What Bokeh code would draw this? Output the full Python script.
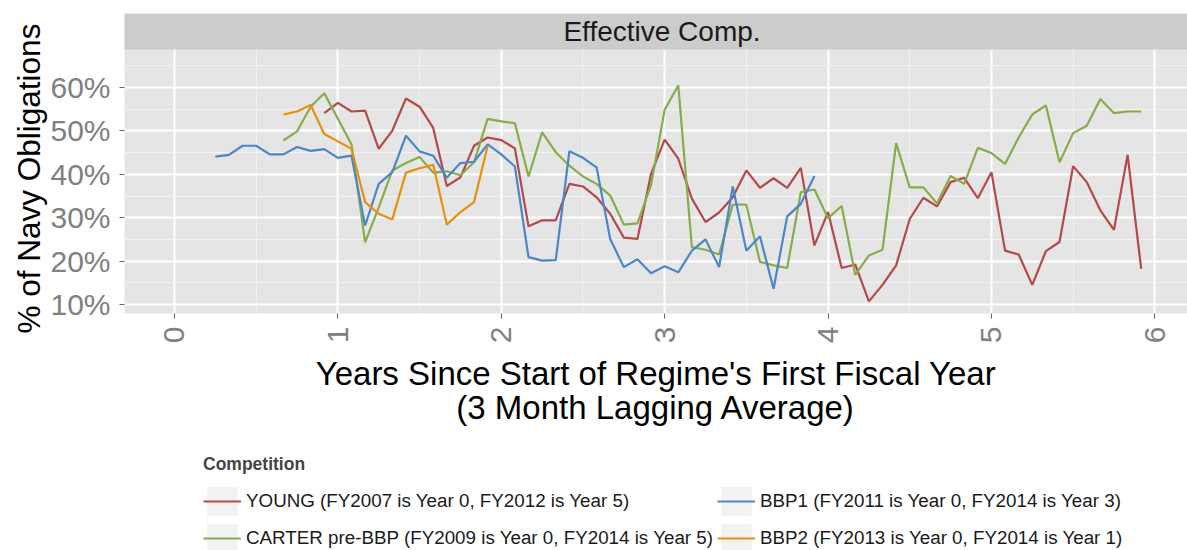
import math
from bokeh.plotting import figure
from bokeh.models import (ColumnDataSource, FixedTicker, PrintfTickFormatter, Legend,
                          LegendItem, Label, Range1d, Title)
from bokeh.layouts import column
from bokeh.embed import file_html
from bokeh.resources import INLINE

# ---------------- data (monthly points, 3-month lagging average, % of Navy obligations) -------------
series_names = [
    "YOUNG (FY2007 is Year 0, FY2012 is Year 5)",
    "CARTER pre-BBP (FY2009 is Year 0, FY2014 is Year 5)",
    "BBP1 (FY2011 is Year 0, FY2014 is Year 3)",
    "BBP2 (FY2013 is Year 0, FY2014 is Year 1)",
]
series_colors = ["#B5484A", "#88AC4A", "#4A86C8", "#E8900C"]

# first month index (months since start of regime's first fiscal year) of each series
young_start = 11
young_vals = [54.1, 56.5, 54.5, 54.7, 45.9, 50.1, 57.5, 55.6, 50.7, 37.3, 39.3, 46.6, 48.5,
              47.9, 46.0, 28.0, 29.4, 29.4, 37.8, 37.2, 34.7, 30.9, 25.4, 25.1, 40.1, 48.0,
              43.6, 34.4, 29.0, 31.2, 34.7, 40.9, 36.9, 39.1, 36.9, 41.5, 23.6, 31.3, 18.4,
              19.2, 10.7, 14.5, 19.0, 29.7, 34.6, 32.6, 38.2, 39.2, 34.5, 40.5, 22.4, 21.5,
              14.5, 22.3, 24.4, 41.9, 38.2, 31.7, 27.2, 44.5, 18.2]

carter_start = 8
carter_vals = [47.8, 49.9, 55.6, 58.7, 52.8, 46.9, 24.3, 32.4, 40.9, 42.6, 44.0, 40.4, 40.7,
               39.8, 42.8, 52.8, 52.2, 51.8, 39.5, 49.7, 45.1, 42.0, 39.5, 37.8, 35.1, 28.4,
               28.7, 37.5, 54.9, 60.5, 23.2, 22.6, 21.5, 33.0, 33.0, 19.8, 19.0, 18.4, 35.9,
               36.5, 29.9, 32.7, 16.8, 21.3, 22.6, 47.2, 37.0, 37.0, 33.3, 39.6, 37.8, 46.1,
               44.9, 42.4, 48.5, 53.8, 55.9, 42.8, 49.5, 51.2, 57.4, 54.1, 54.5, 54.5]

bbp1_start = 3
bbp1_vals = [44.1, 44.5, 46.6, 46.6, 44.6, 44.6, 46.3, 45.4, 45.8, 43.8, 44.3, 28.2, 37.8,
             40.5, 48.9, 45.3, 44.3, 39.2, 42.6, 42.9, 46.9, 44.6, 41.8, 20.9, 20.1, 20.2,
             45.3, 43.8, 41.6, 25.1, 18.6, 20.4, 17.2, 18.8, 17.4, 22.4, 25.0, 18.6, 37.2,
             22.4, 25.7, 13.6, 30.3, 33.2, 39.6]

bbp2_start = 8
bbp2_vals = [53.8, 54.5, 56.0, 49.3, 47.6, 45.9, 33.6, 30.9, 29.6, 40.4, 41.4, 42.2, 28.4,
             31.3, 33.6, 46.6]

starts = [young_start, carter_start, bbp1_start, bbp2_start]
values = [young_vals, carter_vals, bbp1_vals, bbp2_vals]

x_ticks = [0, 1, 2, 3, 4, 5, 6]
x_minor = [0.5, 1.5, 2.5, 3.5, 4.5, 5.5]
y_ticks = [10, 20, 30, 40, 50, 60]
y_minor = [15, 25, 35, 45, 55, 65]

FONT = "Liberation Sans"
W = 1187
H_MAIN, H_LEG = 450, 100
LEFT = 124

# axis ranges; the facet strip sits inside the frame above the data panel
X0, X1 = -0.306, 6.2
Y0, PANEL_TOP, STRIP_TOP = 7.9, 68.8, 77.1

p = figure(width=W, height=H_MAIN, x_range=Range1d(X0, X1), y_range=Range1d(Y0, STRIP_TOP),
           output_backend="svg", toolbar_location=None,
           min_border_left=LEFT, min_border_right=0, min_border_top=13,
           min_border_bottom=H_MAIN - 313,
           background_fill_color="#E5E5E5", border_fill_color="white", outline_line_color=None)

p.xaxis.ticker = FixedTicker(ticks=x_ticks, minor_ticks=x_minor)
p.yaxis.ticker = FixedTicker(ticks=y_ticks, minor_ticks=y_minor)
p.yaxis.formatter = PrintfTickFormatter(format="%d%%")

for g in (p.xgrid, p.ygrid):
    g.grid_line_color = "white"
    g.grid_line_width = 2
    g.minor_grid_line_color = "#F2F2F2"
    g.minor_grid_line_width = 1

for ax in (p.xaxis, p.yaxis):
    ax.axis_line_color = None
    ax.major_tick_line_color = "#666666"
    ax.major_tick_line_width = 1
    ax.major_tick_in = 0
    ax.major_tick_out = 5
    ax.minor_tick_line_color = None
    ax.major_label_text_color = "#808080"
    ax.major_label_text_font = FONT
    ax.major_label_text_font_size = "30px"
    ax.axis_label_text_font = FONT
    ax.axis_label_text_font_style = "normal"
    ax.axis_label_text_color = "black"

p.yaxis.major_label_standoff = 9
p.xaxis.major_label_orientation = math.pi / 2
p.xaxis.major_label_standoff = 8
p.xaxis.axis_label = "Years Since Start of Regime's First Fiscal Year\n(3 Month Lagging Average)"
p.xaxis.axis_label_text_font_size = "33px"
p.xaxis.axis_label_standoff = 9
p.xaxis.axis_label_text_line_height = 0.92

# y-axis title as a left-side title so it can extend beyond the data panel like the original
ytitle = Title(text="% of Navy Obligations", align="left", offset=-20,
               text_font=FONT, text_font_size="31.5px", text_font_style="normal",
               text_color="black")
if "standoff" in ytitle.properties():
    ytitle.standoff = 2
p.add_layout(ytitle, "left")

# facet strip
p.quad(left=[X0], right=[X1], bottom=[PANEL_TOP], top=[STRIP_TOP],
       fill_color="#CCCCCC", line_color=None)
p.add_layout(Label(x=(X0 + X1) / 2, y=(PANEL_TOP + STRIP_TOP) / 2, x_offset=6,
                   text="Effective Comp.", text_align="center", text_baseline="middle",
                   text_font=FONT, text_font_size="28px", text_color="#1A1A1A"))

for col, st, vals in zip(series_colors, starts, values):
    src = ColumnDataSource(dict(x=[(st + i) / 12 for i in range(len(vals))], y=vals))
    p.line("x", "y", source=src, line_color=col, line_width=2.2)

# ---------------- legend (separate strip below the plot) ----------------
lf = figure(width=W, height=H_LEG, x_range=Range1d(0, 1), y_range=Range1d(0, 1),
            output_backend="svg", toolbar_location=None,
            x_axis_location=None, y_axis_location=None,
            min_border_left=LEFT, min_border_right=0, min_border_top=0, min_border_bottom=0,
            background_fill_color="white", border_fill_color="white", outline_line_color=None)
lf.grid.visible = False
nan = float("nan")
key_r = lf.quad(left=[nan], right=[nan], top=[nan], bottom=[nan],
                fill_color="#F2F2F2", line_color=None)
items = []
for name, col in zip(series_names, series_colors):
    lr = lf.line(x=[nan], y=[nan], line_color=col, line_width=2.2)
    items.append(LegendItem(label=name, renderers=[key_r, lr]))

legend = Legend(items=items, location=(79, -6), nrows=2, orientation="vertical",
                title="Competition", title_text_font=FONT, title_text_font_style="bold",
                title_text_font_size="17.5px", title_standoff=8,
                label_text_font=FONT, label_text_font_size="18.8px", label_text_color="#1A1A1A",
                glyph_width=38, glyph_height=36, label_standoff=5, label_width=470,
                spacing=1, padding=0, margin=0, border_line_color=None,
                background_fill_alpha=0)
lf.add_layout(legend)

layout = column(p, lf, spacing=0)
open("out.html", "w").write(file_html(layout, INLINE))
